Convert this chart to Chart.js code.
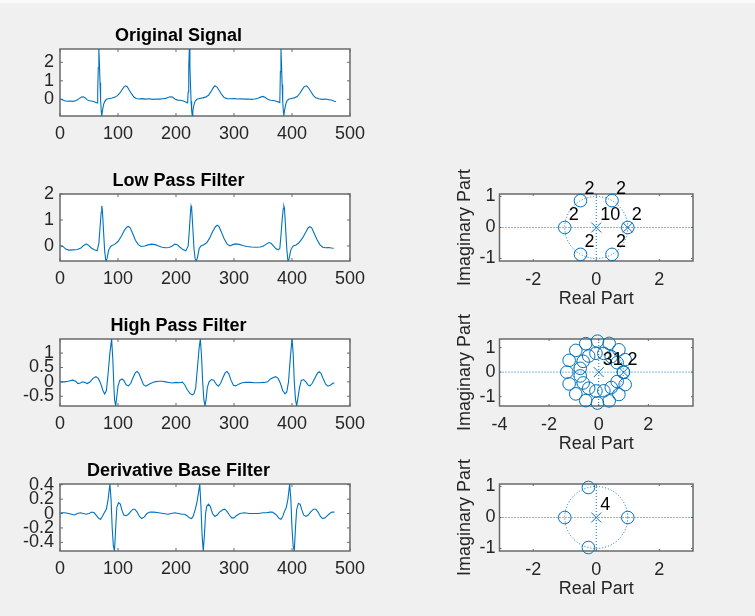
<!DOCTYPE html>
<html>
<head>
<meta charset="utf-8">
<title>ECG filters</title>
<script src="https://cdn.jsdelivr.net/npm/chart.js@4.4.1/dist/chart.umd.min.js"></script>
<style>
  html, body { margin: 0; padding: 0; }
  body { width: 755px; height: 616px; background: #f0f0f0; position: relative; overflow: hidden; }
  canvas { position: absolute; }
  #strip { position: absolute; left: 0; top: 0; width: 755px; height: 3px; background: #fafafa; }
</style>
</head>
<body>
<div id="strip"></div>
<canvas id="sig1"></canvas>
<canvas id="sig2"></canvas>
<canvas id="sig3"></canvas>
<canvas id="sig4"></canvas>
<canvas id="pz1"></canvas>
<canvas id="pz2"></canvas>
<canvas id="pz3"></canvas>
<script>
// ---- data: [sample, value] ----
const originalSignal = [
  [1,0.02],[4,-0.02],[8,-0.08],[13,-0.1],[18,-0.09],[23,-0.11],[28,-0.06],[33,0.04],[37,0.12],[40,0.14],
  [43,0.09],[47,-0.03],[51,-0.08],[56,-0.1],[60,-0.14],[63,-0.19],[64,-0.2],[65,0.4],[66,1.7],[67,2.72],
  [68,1.9],[69,0.9],[70,0],[71,-0.6],[72,-0.9],[73,-0.65],[75,-0.3],[77,-0.12],[80,0],[85,0.05],
  [90,0.07],[95,0.12],[99,0.2],[103,0.33],[107,0.52],[110,0.66],[113,0.73],[116,0.68],[119,0.52],[123,0.32],
  [127,0.14],[131,0.05],[136,0.02],[142,0.04],[148,0.01],[154,0.03],[160,0],[166,0.02],[172,0.01],[177,0.03],
  [182,0.05],[186,0.1],[190,0.14],[194,0.12],[198,0.02],[203,-0.04],[208,-0.05],[213,-0.09],[217,-0.14],[219,-0.18],
  [220,-0.19],[221,0.4],[222,1.7],[223,2.72],[224,1.8],[225,0.8],[226,-0.1],[227,-0.6],[228,-0.88],[229,-0.62],
  [231,-0.3],[233,-0.1],[236,0],[241,0.05],[246,0.08],[251,0.12],[256,0.22],[260,0.4],[264,0.62],[267,0.73],
  [271,0.65],[275,0.45],[279,0.25],[283,0.1],[288,0.04],[294,0.03],[300,0.04],[306,0.02],[312,0.03],[318,0.01],
  [324,0.02],[330,0],[336,0.02],[341,0.06],[346,0.12],[350,0.16],[354,0.1],[358,0],[363,-0.05],[368,-0.06],
  [373,-0.1],[377,-0.15],[379,-0.18],[380,1.5],[381,2.72],[382,1.8],[383,0.8],[384,-0.1],[385,-0.6],[386,-0.88],
  [387,-0.62],[389,-0.3],[391,-0.1],[394,0],[399,0.05],[404,0.08],[409,0.15],[413,0.3],[417,0.5],[421,0.68],
  [425,0.73],[429,0.6],[433,0.4],[437,0.2],[441,0.08],[446,0.03],[452,0],[458,0.02],[464,-0.02],[469,-0.05],
  [473,-0.1],[476,-0.12]
];

const lowPassSignal = [
  [1,0],[5,-0.02],[10,-0.12],[15,-0.16],[22,-0.15],[30,-0.14],[36,-0.08],[41,0.02],[45,0.08],[49,0.03],
  [54,-0.08],[59,-0.15],[64,-0.19],[67,0.1],[69,0.7],[71,1.3],[72,1.54],[73,1.4],[75,0.6],[77,-0.2],
  [79,-0.58],[81,-0.5],[84,-0.15],[88,0],[94,0.06],[100,0.17],[106,0.38],[111,0.6],[115,0.72],[118,0.75],
  [121,0.7],[125,0.5],[130,0.22],[135,0.05],[140,-0.02],[146,0],[152,0.04],[158,0.07],[164,0.05],[170,0],
  [176,-0.05],[182,-0.07],[188,-0.06],[193,-0.01],[198,0.07],[202,0.05],[207,-0.05],[212,-0.14],[217,-0.19],[221,0],
  [223,0.6],[225,1.3],[226,1.54],[227,1.45],[229,0.7],[231,-0.1],[233,-0.5],[235,-0.58],[237,-0.45],[240,-0.1],
  [243,0],[248,0.05],[253,0.12],[258,0.3],[263,0.55],[268,0.74],[271,0.8],[274,0.75],[278,0.55],[283,0.28],
  [288,0.08],[293,0],[298,0.05],[303,0.08],[309,0.06],[315,0.02],[322,-0.02],[330,-0.04],[338,-0.05],[345,-0.04],
  [350,-0.01],[355,0.06],[360,0.13],[364,0.1],[368,0],[372,-0.1],[376,-0.15],[379,-0.1],[381,0.4],[383,1],
  [385,1.45],[386,1.54],[387,1.45],[389,0.7],[391,-0.1],[393,-0.58],[395,-0.5],[398,-0.15],[402,0],[407,0.04],
  [412,0.12],[418,0.3],[423,0.5],[428,0.7],[431,0.74],[434,0.7],[438,0.5],[443,0.25],[448,0.05],[453,-0.05],
  [458,-0.07],[463,-0.06],[468,-0.08],[472,-0.09]
];

const highPassSignal = [
  [1,0],[8,0],[14,0.02],[22,0.06],[27,0.02],[31,-0.06],[35,-0.04],[39,0],[43,-0.02],[47,-0.06],
  [52,0],[57,0.12],[62,0.18],[66,0.12],[70,-0.05],[74,-0.3],[77,-0.42],[80,-0.3],[83,0.3],[86,1],
  [89,1.49],[91,0.8],[93,-0.2],[94,-0.6],[96,-0.84],[98,-0.5],[100,-0.15],[103,0.05],[107,0.1],[110,0.05],
  [114,-0.1],[118,-0.14],[122,-0.05],[126,0.15],[130,0.32],[133,0.36],[136,0.3],[140,0.1],[144,-0.1],[148,-0.15],
  [152,-0.1],[157,-0.05],[163,0],[170,0.02],[176,0.02],[182,0],[188,-0.02],[194,-0.04],[200,-0.02],[206,-0.03],
  [211,-0.01],[215,-0.1],[219,-0.26],[224,-0.4],[228,-0.45],[231,-0.42],[234,-0.2],[237,0.5],[240,1.2],[242,1.49],
  [244,0.9],[246,0],[248,-0.6],[250,-0.84],[252,-0.6],[254,-0.2],[257,0],[261,0.08],[265,0.06],[270,-0.1],
  [273,-0.15],[277,-0.05],[281,0.15],[285,0.32],[288,0.36],[291,0.28],[295,0.05],[299,-0.12],[303,-0.14],[308,-0.08],
  [314,-0.03],[320,-0.02],[328,-0.02],[336,-0.03],[344,-0.03],[352,-0.02],[358,0],[363,0.1],[368,0.15],[372,0.18],
  [376,0.12],[380,-0.05],[384,-0.3],[388,-0.42],[391,-0.35],[394,0],[397,0.8],[400,1.49],[402,1],[404,0],
  [406,-0.6],[408,-0.84],[410,-0.6],[413,-0.2],[416,0.05],[420,0.08],[424,0],[428,-0.12],[431,-0.14],[435,-0.05],
  [440,0.15],[444,0.3],[447,0.35],[450,0.3],[454,0.1],[458,-0.08],[462,-0.15],[466,-0.12],[470,-0.06],[473,-0.03]
];

const derivativeSignal = [
  [1,0.01],[8,0.01],[15,0],[20,-0.01],[25,-0.02],[30,0],[35,0.01],[40,0],[45,-0.01],[50,0],
  [55,0.02],[59,0.01],[63,-0.03],[67,-0.07],[70,-0.08],[73,-0.04],[77,0.02],[80,0.06],[83,0.2],[86,0.41],
  [88,0.2],[90,-0.2],[92,-0.45],[94,-0.52],[96,-0.2],[98,0.09],[101,0.15],[104,0.13],[107,0.04],[110,-0.02],
  [114,-0.03],[118,-0.01],[122,0.03],[126,0.06],[129,0.06],[133,0.02],[137,-0.04],[141,-0.07],[145,-0.05],[150,0],
  [155,0.02],[162,0.02],[170,0.01],[178,0],[186,-0.01],[192,0],[198,0.01],[204,0],[210,-0.01],[215,-0.01],
  [219,-0.03],[223,-0.06],[227,-0.07],[230,-0.03],[233,0.05],[236,0.15],[239,0.3],[241,0.41],[243,0.1],[245,-0.3],
  [247,-0.52],[249,-0.3],[251,0],[253,0.1],[256,0.13],[259,0.1],[263,0],[267,-0.04],[271,-0.02],[275,0.02],
  [280,0.05],[284,0.06],[288,0.03],[292,-0.02],[296,-0.06],[300,-0.06],[304,-0.03],[310,0],[318,0.01],[326,0],
  [334,0],[342,0],[350,0.01],[356,0.01],[362,0.02],[366,0.02],[370,0],[374,-0.03],[378,-0.07],[381,-0.08],
  [384,-0.04],[387,0.03],[390,0.08],[393,0.2],[396,0.41],[398,0.2],[400,-0.2],[402,-0.45],[404,-0.52],[406,-0.2],
  [408,0.05],[411,0.14],[414,0.13],[417,0.05],[420,-0.02],[424,-0.04],[428,-0.02],[432,0.02],[437,0.06],[441,0.06],
  [445,0.02],[449,-0.04],[453,-0.07],[457,-0.06],[461,-0.03],[465,0],[469,0.02],[473,0.02]
];

// pole / zero positions [re, im] and multiplicity labels [re, im, text]
const lowPassZeros = [[1,0],[0.5,0.866],[-0.5,0.866],[-1,0],[-0.5,-0.866],[0.5,-0.866]];
const lowPassPoles = [[0,0],[1,0]];
const lowPassLabels = [[1,0,'2'],[0.5,0.866,'2'],[-0.5,0.866,'2'],[-1,0,'2'],[-0.5,-0.866,'2'],[0.5,-0.866,'2'],[0,0,'10']];

const highPassZeros = [
  [1,0],[0.99,0],
  [1.065,0.508],[0.813,0.91],[0.42,1.172],[-0.051,1.261],[-0.524,1.161],[-0.925,0.886],[-1.193,0.48],[-1.286,0],
  [1.065,-0.508],[0.813,-0.91],[0.42,-1.172],[-0.051,-1.261],[-0.524,-1.161],[-0.925,-0.886],[-1.193,-0.48],
  [0.743,0.384],[0.505,0.628],[0.206,0.762],[-0.112,0.77],[-0.405,0.656],[-0.627,0.44],[-0.748,0.155],
  [0.743,-0.384],[0.505,-0.628],[0.206,-0.762],[-0.112,-0.77],[-0.405,-0.656],[-0.627,-0.44],[-0.748,-0.155]
];
const highPassPoles = [[0,0],[1,0]];
const highPassLabels = [[0,0,'31'],[1,0,'2']];

const derivativeZeros = [[1,0],[-1,0],[-0.25,0.968],[-0.25,-0.968]];
const derivativePoles = [[0,0]];
const derivativeLabels = [[0,0,'4']];

// tick labels
const signalXTicks = [0, 100, 200, 300, 400, 500];
const originalYTicks = [0, 1, 2];
const lowPassYTicks = [0, 1, 2];
const highPassYTicks = [-0.5, 0, 0.5, 1];
const derivativeYTicks = [-0.4, -0.2, 0, 0.2, 0.4];
const pzXTicks = [-2, 0, 2];
const pzWideXTicks = [-4, -2, 0, 2];
const pzYTicks = [-1, 0, 1];

// ---- look ----
const BLUE = '#0072BD';
const AXIS_GRAY = '#6a6a6a';
const TEXT_GRAY = '#262626';
const ROW_TOP = [49, 194, 339, 484];
const BOX_H = 67;
const SIG_X0 = 60, SIG_X1 = 357, SIG_W = 372, TITLE_H = 24, SIG_XAXIS_H = 32;
const PZ_LEFT = 448, PZ_X0 = 499.5, PZ_X1 = 693, PZ_W = 262, PZ_PAD_TOP = 40, PZ_XAXIS_H = 52;

Chart.defaults.font.family = '"Liberation Sans", Arial, Helvetica, sans-serif';
Chart.defaults.font.size = 18;
Chart.defaults.color = TEXT_GRAY;

function placeCanvas(id, left, top, width, height) {
  const c = document.getElementById(id);
  c.width = width;
  c.height = height;
  c.style.left = left + 'px';
  c.style.top = top + 'px';
  return c;
}

const fixedTicks = values => scale => { scale.ticks = values.map(v => ({ value: v })); };

// white plot area, box and inward tick marks like MATLAB axes
function matlabAxes(tickLen) {
  return {
    id: 'matlabAxes',
    beforeDraw(chart) {
      const { ctx, chartArea: a } = chart;
      ctx.save();
      ctx.fillStyle = '#ffffff';
      ctx.fillRect(a.left, a.top, a.width, a.height);
      ctx.restore();
    },
    beforeDatasetsDraw(chart) {
      const { ctx, chartArea: a, scales } = chart;
      ctx.save();
      ctx.strokeStyle = AXIS_GRAY;
      ctx.lineWidth = 1;
      ctx.beginPath();
      scales.x.ticks.forEach(t => {
        const px = scales.x.getPixelForValue(t.value);
        ctx.moveTo(px, a.bottom); ctx.lineTo(px, a.bottom - tickLen);
        ctx.moveTo(px, a.top); ctx.lineTo(px, a.top + tickLen);
      });
      scales.y.ticks.forEach(t => {
        const py = scales.y.getPixelForValue(t.value);
        ctx.moveTo(a.left, py); ctx.lineTo(a.left + tickLen, py);
        ctx.moveTo(a.right, py); ctx.lineTo(a.right - tickLen, py);
      });
      ctx.stroke();
      ctx.lineWidth = 1.5;
      ctx.strokeRect(a.left, a.top, a.width, a.height);
      ctx.restore();
    }
  };
}

// dotted unit circle + axes, multiplicity numbers
function zplaneMarks(labels) {
  return {
    id: 'zplaneMarks',
    beforeDatasetsDraw(chart) {
      const { ctx, chartArea: a, scales: { x, y } } = chart;
      const cx = x.getPixelForValue(0), cy = y.getPixelForValue(0);
      const rx = x.getPixelForValue(1) - cx, ry = cy - y.getPixelForValue(1);
      ctx.save();
      ctx.strokeStyle = BLUE;
      ctx.lineWidth = 1;
      ctx.setLineDash([1, 2]);
      ctx.beginPath();
      ctx.moveTo(a.left, cy); ctx.lineTo(a.right, cy);
      ctx.moveTo(cx, a.top); ctx.lineTo(cx, a.bottom);
      ctx.stroke();
      ctx.beginPath();
      ctx.ellipse(cx, cy, rx, ry, 0, 0, Math.PI * 2);
      ctx.stroke();
      ctx.restore();
    },
    afterDatasetsDraw(chart) {
      const { ctx, scales: { x, y } } = chart;
      ctx.save();
      ctx.fillStyle = '#000';
      ctx.font = '18px "Liberation Sans", Arial, sans-serif';
      ctx.textAlign = 'left';
      ctx.textBaseline = 'middle';
      labels.forEach(([re, im, txt]) => {
        ctx.fillText(txt, x.getPixelForValue(re) + 4, y.getPixelForValue(im) - 12);
      });
      ctx.restore();
    }
  };
}

const noGrid = { display: false, drawTicks: false };

function drawSignal(id, row, title, points, yMin, yMax, yTicks) {
  const canvas = placeCanvas(id, 0, ROW_TOP[row] - TITLE_H, SIG_W, TITLE_H + BOX_H + SIG_XAXIS_H);
  return new Chart(canvas, {
    type: 'line',
    data: {
      datasets: [{
        data: points.map(([x, y]) => ({ x, y })),
        borderColor: BLUE, borderWidth: 1.1, pointRadius: 0, tension: 0, fill: false
      }]
    },
    options: {
      responsive: false, animation: false, events: [],
      layout: { padding: { left: 0, top: 0, bottom: 0, right: SIG_W - SIG_X1 } },
      plugins: {
        legend: { display: false },
        tooltip: { enabled: false },
        title: {
          display: true, text: title, color: '#000',
          font: { size: 18, weight: 'bold' },
          padding: { top: 0, bottom: TITLE_H - 21.6 }
        }
      },
      scales: {
        x: {
          type: 'linear', min: 0, max: 500,
          grid: noGrid, border: { display: false },
          ticks: { padding: 7, autoSkip: false, maxRotation: 0, callback: v => String(v) },
          afterBuildTicks: fixedTicks(signalXTicks),
          afterFit: s => { s.height = SIG_XAXIS_H; }
        },
        y: {
          type: 'linear', min: yMin, max: yMax,
          grid: noGrid, border: { display: false },
          ticks: { padding: 6, autoSkip: false, callback: v => String(v) },
          afterBuildTicks: fixedTicks(yTicks),
          afterFit: s => { s.width = SIG_X0; }
        }
      }
    },
    plugins: [matlabAxes(3)]
  });
}

function drawZplane(id, row, zeros, poles, labels, xMin, xMax, yMin, yMax, xTicks) {
  const canvas = placeCanvas(id, PZ_LEFT, ROW_TOP[row] - PZ_PAD_TOP, PZ_W, PZ_PAD_TOP + BOX_H + PZ_XAXIS_H);
  return new Chart(canvas, {
    type: 'scatter',
    data: {
      datasets: [
        {
          data: zeros.map(([x, y]) => ({ x, y })),
          pointStyle: 'circle', pointRadius: 6.3, borderWidth: 1,
          borderColor: BLUE, backgroundColor: 'rgba(0,0,0,0)', clip: false
        },
        {
          data: poles.map(([x, y]) => ({ x, y })),
          pointStyle: 'crossRot', pointRadius: 7, borderWidth: 1,
          borderColor: BLUE, backgroundColor: BLUE, clip: false
        }
      ]
    },
    options: {
      responsive: false, animation: false, events: [],
      layout: { padding: { left: 0, top: PZ_PAD_TOP, bottom: 0, right: PZ_W - (PZ_X1 - PZ_LEFT) } },
      plugins: { legend: { display: false }, tooltip: { enabled: false } },
      scales: {
        x: {
          type: 'linear', min: xMin, max: xMax,
          grid: noGrid, border: { display: false },
          ticks: { padding: 8, autoSkip: false, maxRotation: 0, callback: v => String(v) },
          title: { display: true, text: 'Real Part', color: TEXT_GRAY, font: { size: 18 }, padding: { top: 0, bottom: 3 } },
          afterBuildTicks: fixedTicks(xTicks),
          afterFit: s => { s.height = PZ_XAXIS_H; }
        },
        y: {
          type: 'linear', min: yMin, max: yMax,
          grid: noGrid, border: { display: false },
          ticks: { padding: 4, autoSkip: false, callback: v => String(v) },
          title: { display: true, text: 'Imaginary Part', color: TEXT_GRAY, font: { size: 18 }, padding: { top: 6, bottom: 0 } },
          afterBuildTicks: fixedTicks(pzYTicks),
          afterFit: s => { s.width = PZ_X0 - PZ_LEFT; }
        }
      }
    },
    plugins: [matlabAxes(2), zplaneMarks(labels)]
  });
}

drawSignal('sig1', 0, 'Original Signal', originalSignal, -0.9, 2.72, originalYTicks);
drawSignal('sig2', 1, 'Low Pass Filter', lowPassSignal, -0.58, 2, lowPassYTicks);
drawSignal('sig3', 2, 'High Pass Filter', highPassSignal, -0.84, 1.49, highPassYTicks);
drawSignal('sig4', 3, 'Derivative Base Filter', derivativeSignal, -0.52, 0.41, derivativeYTicks);

drawZplane('pz1', 1, lowPassZeros, lowPassPoles, lowPassLabels, -3.07, 3.07, -1.08, 1.08, pzXTicks);
drawZplane('pz2', 2, highPassZeros, highPassPoles, highPassLabels, -4, 3.8, -1.38, 1.35, pzWideXTicks);
drawZplane('pz3', 3, derivativeZeros, derivativePoles, derivativeLabels, -3.07, 3.07, -1.08, 1.08, pzXTicks);
</script>
</body>
</html>
